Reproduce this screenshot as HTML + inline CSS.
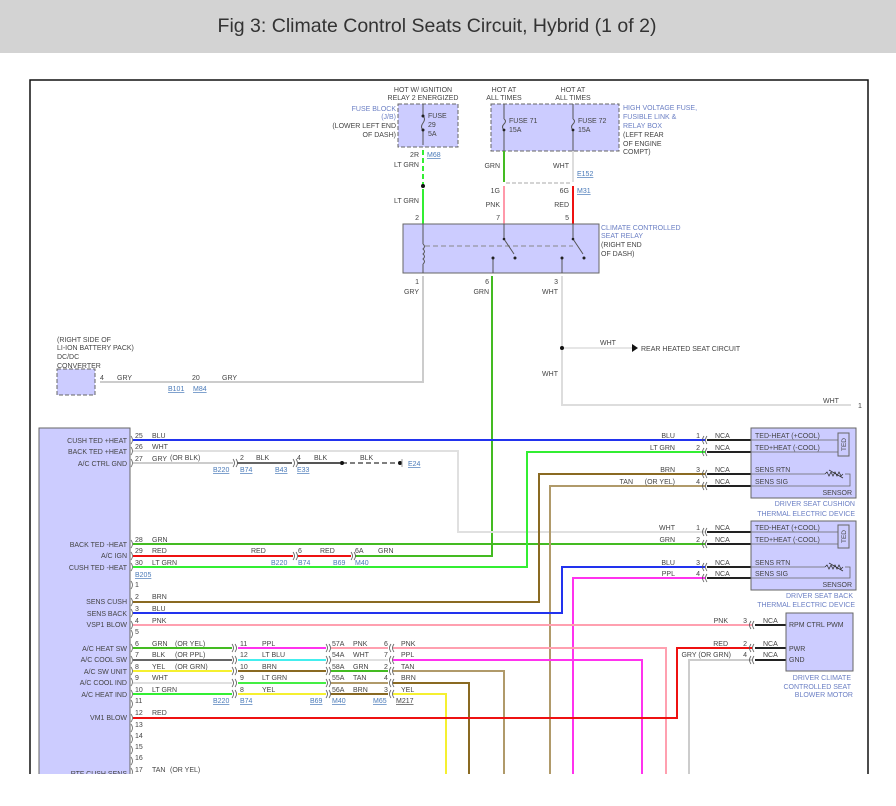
<!DOCTYPE html>
<html><head><meta charset="utf-8"><style>
html,body{margin:0;padding:0;background:#fff;width:896px;height:806px;overflow:hidden}
svg{display:block}
text{font-family:"Liberation Sans",sans-serif;font-size:7px;fill:#444}
.r{text-anchor:end}
.ref{fill:#4a7ab8;text-decoration:underline}
.cap{fill:#6b7fc4}
.w{fill:none;stroke-width:2}
</style></head><body>
<svg width="896" height="806" viewBox="0 0 896 806">
<rect x="0" y="0" width="896" height="53" fill="#d3d3d3"/>
<text x="437" y="32" text-anchor="middle" style="font-size:19.5px;fill:#333;font-family:'Liberation Sans',sans-serif">Fig 3: Climate Control Seats Circuit, Hybrid (1 of 2)</text>
<!-- frame -->
<path d="M30 806 V80 H868 V806" fill="none" stroke="#111" stroke-width="1.5"/>

<!-- top: fuse block -->
<text x="423" y="92" text-anchor="middle">HOT W/ IGNITION</text>
<text x="423" y="100" text-anchor="middle">RELAY 2 ENERGIZED</text>
<text x="396" y="111" class="r cap">FUSE BLOCK</text>
<text x="396" y="119" class="r cap">(J/B)</text>
<text x="396" y="128" class="r">(LOWER LEFT END</text>
<text x="396" y="137" class="r">OF DASH)</text>
<rect x="398" y="104" width="60" height="43" fill="#ccccff" stroke="#666" stroke-dasharray="4,2"/>
<path d="M423 104 V116 M423 130 V145" stroke="#555"/>
<path d="M423 116 q3 3 0 7 q-3 4 0 7" fill="none" stroke="#555"/>
<circle cx="423" cy="116" r="1.5" fill="#222"/><circle cx="423" cy="130" r="1.5" fill="#222"/>
<text x="428" y="118">FUSE</text><text x="428" y="127">29</text><text x="428" y="136">5A</text>
<text x="419" y="157" class="r">2R</text><text x="427" y="157" class="ref">M68</text>
<path d="M423 150 V186" stroke="#33ee33" stroke-width="2" stroke-dasharray="5,3"/>
<circle cx="423" cy="186" r="2" fill="#111"/>
<path d="M423 189 V224" stroke="#33ee33" stroke-width="2"/>
<text x="419" y="167" class="r">LT GRN</text><text x="419" y="203" class="r">LT GRN</text>
<text x="419" y="220" class="r">2</text>

<!-- HV box -->
<text x="504" y="92" text-anchor="middle">HOT AT</text><text x="504" y="100" text-anchor="middle">ALL TIMES</text>
<text x="573" y="92" text-anchor="middle">HOT AT</text><text x="573" y="100" text-anchor="middle">ALL TIMES</text>
<rect x="491" y="104" width="128" height="47" fill="#ccccff" stroke="#666" stroke-dasharray="4,2"/>
<path d="M504 104 V119 M504 130 V151 M573 104 V119 M573 130 V151" stroke="#555"/>
<path d="M504 119 q3 2 0 5 q-3 3 0 6 M573 119 q3 2 0 5 q-3 3 0 6" fill="none" stroke="#555"/>
<circle cx="504" cy="130" r="1.4" fill="#222"/><circle cx="573" cy="130" r="1.4" fill="#222"/>
<text x="509" y="123">FUSE 71</text><text x="509" y="132">15A</text>
<text x="578" y="123">FUSE 72</text><text x="578" y="132">15A</text>
<text x="623" y="110" class="cap">HIGH VOLTAGE FUSE,</text>
<text x="623" y="119" class="cap">FUSIBLE LINK &amp;</text>
<text x="623" y="128" class="cap">RELAY BOX</text>
<text x="623" y="137">(LEFT REAR</text><text x="623" y="146">OF ENGINE</text><text x="623" y="154">COMPT)</text>
<path d="M504 151 V182" stroke="#44bb22" stroke-width="2"/>
<path d="M573 151 V182" stroke="#ddd" stroke-width="2"/>
<text x="500" y="168" class="r">GRN</text><text x="569" y="168" class="r">WHT</text>
<path d="M506 183 H571" stroke="#aaa" stroke-dasharray="4,2"/>
<text x="577" y="176" class="ref">E152</text>
<text x="500" y="193" class="r">1G</text><text x="569" y="193" class="r">6G</text><text x="577" y="193" class="ref">M31</text>
<path d="M504 186 V224" stroke="#ff99aa" stroke-width="2"/>
<path d="M573 186 V224" stroke="#ee1111" stroke-width="2"/>
<text x="500" y="207" class="r">PNK</text><text x="569" y="207" class="r">RED</text>
<text x="500" y="220" class="r">7</text><text x="569" y="220" class="r">5</text>

<!-- relay -->
<rect x="403" y="224" width="196" height="49" fill="#ccccff" stroke="#666"/>
<path d="M423 224 V244 M423 264 V273" stroke="#555"/>
<path d="M423 244 q3 2.5 0 5 q3 2.5 0 5 q3 2.5 0 5 q3 2.5 0 5" fill="none" stroke="#555"/>
<path d="M425 246 H573" stroke="#888" stroke-dasharray="5,3"/>
<path d="M504 224 V239 L514 254 M573 224 V239 L583 254" stroke="#555" fill="none"/>
<circle cx="504" cy="239" r="1.3" fill="#222"/><circle cx="573" cy="239" r="1.3" fill="#222"/>
<circle cx="515" cy="258" r="1.5" fill="#222"/><circle cx="584" cy="258" r="1.5" fill="#222"/>
<path d="M493 258 V273 M562 258 V273" stroke="#555"/>
<circle cx="493" cy="258" r="1.5" fill="#222"/><circle cx="562" cy="258" r="1.5" fill="#222"/>
<text x="601" y="230" class="cap">CLIMATE CONTROLLED</text>
<text x="601" y="238" class="cap">SEAT RELAY</text>
<text x="601" y="247">(RIGHT END</text><text x="601" y="256">OF DASH)</text>
<text x="419" y="284" class="r">1</text><text x="489" y="284" class="r">6</text><text x="558" y="284" class="r">3</text>
<text x="419" y="294" class="r">GRY</text><text x="489" y="294" class="r">GRN</text><text x="558" y="294" class="r">WHT</text>

<path d="M423 276 V382 H100" class="w" stroke="#ccc"/>
<path d="M492 276 V556 H355" class="w" stroke="#44bb22"/>
<path d="M562 276 V405 H851" class="w" stroke="#ddd"/>
<path d="M564 348 H632" stroke="#ddd" stroke-width="1.5"/>
<circle cx="562" cy="348" r="2" fill="#111"/>
<path d="M632 344 L638 348 L632 352 Z" fill="#111"/>
<text x="600" y="345">WHT</text><text x="641" y="351">REAR HEATED SEAT CIRCUIT</text>
<text x="558" y="376" class="r">WHT</text>
<text x="823" y="403">WHT</text><text x="858" y="408">1</text>

<!-- DC/DC -->
<text x="57" y="342">(RIGHT SIDE OF</text><text x="57" y="350">LI-ION BATTERY PACK)</text>
<text x="57" y="359">DC/DC</text><text x="57" y="368">CONVERTER</text>
<rect x="57" y="369" width="38" height="26" fill="#ccccff" stroke="#666" stroke-dasharray="4,2"/>
<text x="100" y="380">4</text><text x="117" y="380">GRY</text>
<text x="192" y="380">20</text><text x="222" y="380">GRY</text>
<text x="168" y="391" class="ref">B101</text><text x="193" y="391" class="ref">M84</text>

<!-- left module -->
<rect x="39" y="428" width="91" height="360" fill="#ccccff" stroke="#666"/>
<text x="127" y="443" class="r">CUSH TED +HEAT</text>
<text x="127" y="454" class="r">BACK TED +HEAT</text>
<text x="127" y="466" class="r">A/C CTRL GND</text>
<text x="127" y="547" class="r">BACK TED -HEAT</text>
<text x="127" y="558" class="r">A/C IGN</text>
<text x="127" y="570" class="r">CUSH TED -HEAT</text>
<text x="127" y="604" class="r">SENS CUSH</text>
<text x="127" y="616" class="r">SENS BACK</text>
<text x="127" y="627" class="r">VSP1 BLOW</text>
<text x="127" y="651" class="r">A/C HEAT SW</text>
<text x="127" y="662" class="r">A/C COOL SW</text>
<text x="127" y="674" class="r">A/C SW UNIT</text>
<text x="127" y="685" class="r">A/C COOL IND</text>
<text x="127" y="697" class="r">A/C HEAT IND</text>
<text x="127" y="720" class="r">VM1 BLOW</text>
<text x="127" y="776" class="r">RTF CUSH SENS</text>
<g fill="none" stroke="#666" stroke-width="0.8">
<path d="M131 436 q3 4 0 8 M131 447 q3 4 0 8 M131 459 q3 4 0 8 M131 540 q3 4 0 8 M131 552 q3 4 0 8 M131 563 q3 4 0 8 M131 581 q3 4 0 8 M131 598 q3 4 0 8 M131 609 q3 4 0 8 M131 621 q3 4 0 8 M131 630 q3 4 0 8 M131 644 q3 4 0 8 M131 656 q3 4 0 8 M131 667 q3 4 0 8 M131 678 q3 4 0 8 M131 690 q3 4 0 8 M131 700 q3 4 0 8 M131 714 q3 4 0 8 M131 724 q3 4 0 8 M131 735 q3 4 0 8 M131 746 q3 4 0 8 M131 757 q3 4 0 8 M131 768 q3 4 0 8"/>
</g>
<g>
<text x="135" y="438">25</text><text x="135" y="449">26</text><text x="135" y="461">27</text>
<text x="135" y="542">28</text><text x="135" y="553">29</text><text x="135" y="565">30</text>
<text x="135" y="587">1</text><text x="135" y="599">2</text><text x="135" y="611">3</text><text x="135" y="623">4</text><text x="135" y="634">5</text>
<text x="135" y="646">6</text><text x="135" y="657">7</text><text x="135" y="669">8</text><text x="135" y="680">9</text><text x="135" y="692">10</text><text x="135" y="703">11</text>
<text x="135" y="715">12</text><text x="135" y="727">13</text><text x="135" y="738">14</text><text x="135" y="749">15</text><text x="135" y="760">16</text><text x="135" y="772">17</text>
</g>
<text x="135" y="577" class="ref">B205</text>
<text x="152" y="438">BLU</text><text x="152" y="449">WHT</text><text x="152" y="461">GRY</text><text x="170" y="460">(OR BLK)</text>
<text x="152" y="542">GRN</text><text x="152" y="553">RED</text><text x="152" y="565">LT GRN</text>
<text x="152" y="599">BRN</text><text x="152" y="611">BLU</text><text x="152" y="623">PNK</text>
<text x="152" y="646">GRN</text><text x="175" y="646">(OR YEL)</text>
<text x="152" y="657">BLK</text><text x="175" y="657">(OR PPL)</text>
<text x="152" y="669">YEL</text><text x="175" y="669">(OR GRN)</text>
<text x="152" y="680">WHT</text><text x="152" y="692">LT GRN</text>
<text x="152" y="715">RED</text><text x="152" y="772">TAN</text><text x="170" y="772">(OR YEL)</text>

<path d="M133 440 H705" class="w" stroke="#2233ee"/>
<path d="M133 451 H458 V532 H705" class="w" stroke="#e0e0e0"/>
<path d="M133 463 H233" class="w" stroke="#ccc"/>
<path d="M237 463 H292" class="w" stroke="#666"/>
<path d="M298 463 H340" class="w" stroke="#555"/>
<path d="M342 463 H398" stroke="#555" stroke-width="1.5" stroke-dasharray="5,3"/>
<circle cx="342" cy="463" r="2" fill="#111"/><circle cx="400" cy="463" r="2" fill="#111"/>
<path d="M402 459 V467" stroke="#999"/>
<text x="240" y="460">2</text><text x="256" y="460">BLK</text><text x="297" y="460">4</text><text x="314" y="460">BLK</text><text x="360" y="460">BLK</text>
<text x="408" y="466" class="ref">E24</text>
<text x="213" y="472" class="ref">B220</text><text x="240" y="472" class="ref">B74</text><text x="275" y="472" class="ref">B43</text><text x="297" y="472" class="ref">E33</text>
<path d="M133 544 H705" class="w" stroke="#44bb22"/>
<path d="M133 556 H293" class="w" stroke="#ee1111"/>
<path d="M298 556 H351" class="w" stroke="#ee1111"/>
<text x="251" y="553">RED</text><text x="298" y="553">6</text><text x="320" y="553">RED</text><text x="355" y="553">6A</text><text x="378" y="553">GRN</text>
<text x="271" y="565" class="ref">B220</text><text x="298" y="565" class="ref">B74</text><text x="333" y="565" class="ref">B69</text><text x="355" y="565" class="ref">M40</text>
<path d="M133 567 H527 V452 H705" class="w" stroke="#33ee33"/>
<path d="M133 602 H539 V474 H705" class="w" stroke="#8a6a22"/>
<path d="M550 806 V486 H705" class="w" stroke="#b09a6a"/>
<path d="M133 613 H562 V567 H705" class="w" stroke="#2233ee"/>
<path d="M573 806 V578 H705" class="w" stroke="#ff33ee"/>
<path d="M133 625 H752" class="w" stroke="#ffa0b0"/>
<path d="M133 648 H232" class="w" stroke="#44bb22"/>
<path d="M133 660 H232" class="w" stroke="#666"/>
<path d="M133 671 H232" class="w" stroke="#f5f030"/>
<path d="M133 683 H232" class="w" stroke="#e0e0e0"/>
<path d="M133 694 H232" class="w" stroke="#33ee33"/>
<path d="M238 648 H326" class="w" stroke="#ff33ee"/>
<path d="M238 660 H326" class="w" stroke="#44eeee"/>
<path d="M238 671 H326" class="w" stroke="#8a6a22"/>
<path d="M238 683 H326" class="w" stroke="#44ee44"/>
<path d="M238 694 H326" class="w" stroke="#f5f030"/>
<path d="M331 648 H388" class="w" stroke="#ffa0b0"/>
<path d="M331 660 H388" class="w" stroke="#e0e0e0"/>
<path d="M331 671 H388" class="w" stroke="#44bb22"/>
<path d="M331 683 H388" class="w" stroke="#b09a6a"/>
<path d="M331 694 H388" class="w" stroke="#8a6a22"/>
<path d="M393 648 H666 V806" class="w" stroke="#ffa0b0"/>
<path d="M393 660 H642 V806" class="w" stroke="#ff33ee"/>
<path d="M393 671 H504 V806" class="w" stroke="#b09a6a"/>
<path d="M393 683 H469 V806" class="w" stroke="#8a6a22"/>
<path d="M393 694 H446 V806" class="w" stroke="#f5f030"/>
<path d="M133 718 H677 V648 H752" class="w" stroke="#ee1111"/>
<path d="M689 806 V660 H752" class="w" stroke="#ccc"/>
<g fill="none" stroke="#555" stroke-width="0.8">
<path d="M232 644 q3 4 0 8 M235 644 q3 4 0 8 M232 656 q3 4 0 8 M235 656 q3 4 0 8 M232 667 q3 4 0 8 M235 667 q3 4 0 8 M232 679 q3 4 0 8 M235 679 q3 4 0 8 M232 690 q3 4 0 8 M235 690 q3 4 0 8"/>
<path d="M326 644 q3 4 0 8 M329 644 q3 4 0 8 M326 656 q3 4 0 8 M329 656 q3 4 0 8 M326 667 q3 4 0 8 M329 667 q3 4 0 8 M326 679 q3 4 0 8 M329 679 q3 4 0 8 M326 690 q3 4 0 8 M329 690 q3 4 0 8"/>
<path d="M391 644 q-3 4 0 8 M394 644 q-3 4 0 8 M391 656 q-3 4 0 8 M394 656 q-3 4 0 8 M391 667 q-3 4 0 8 M394 667 q-3 4 0 8 M391 679 q-3 4 0 8 M394 679 q-3 4 0 8 M391 690 q-3 4 0 8 M394 690 q-3 4 0 8"/>
<path d="M233 459 q3 4 0 8 M236 459 q3 4 0 8 M293 459 q3 4 0 8 M296 459 q3 4 0 8 M293 552 q3 4 0 8 M296 552 q3 4 0 8 M351 552 q3 4 0 8 M354 552 q3 4 0 8"/>
</g>
<text x="240" y="646">11</text><text x="262" y="646">PPL</text><text x="332" y="646">57A</text><text x="353" y="646">PNK</text><text x="384" y="646">6</text><text x="401" y="646">PNK</text>
<text x="240" y="657">12</text><text x="262" y="657">LT BLU</text><text x="332" y="657">54A</text><text x="353" y="657">WHT</text><text x="384" y="657">7</text><text x="401" y="657">PPL</text>
<text x="240" y="669">10</text><text x="262" y="669">BRN</text><text x="332" y="669">58A</text><text x="353" y="669">GRN</text><text x="384" y="669">2</text><text x="401" y="669">TAN</text>
<text x="240" y="680">9</text><text x="262" y="680">LT GRN</text><text x="332" y="680">55A</text><text x="353" y="680">TAN</text><text x="384" y="680">4</text><text x="401" y="680">BRN</text>
<text x="240" y="692">8</text><text x="262" y="692">YEL</text><text x="332" y="692">56A</text><text x="353" y="692">BRN</text><text x="384" y="692">3</text><text x="401" y="692">YEL</text>
<text x="213" y="703" class="ref">B220</text><text x="240" y="703" class="ref">B74</text><text x="310" y="703" class="ref">B69</text><text x="332" y="703" class="ref">M40</text><text x="373" y="703" class="ref">M65</text><text x="396" y="703" class="ref" style="fill:#444">M217</text>

<text x="675" y="438" class="r">BLU</text><text x="675" y="450" class="r">LT GRN</text>
<text x="675" y="472" class="r">BRN</text><text x="675" y="484" class="r">(OR YEL)</text><text x="633" y="484" class="r">TAN</text>
<text x="675" y="530" class="r">WHT</text><text x="675" y="542" class="r">GRN</text>
<text x="675" y="565" class="r">BLU</text><text x="675" y="576" class="r">PPL</text>
<text x="728" y="623" class="r">PNK</text><text x="728" y="646" class="r">RED</text><text x="731" y="657" class="r">GRY (OR GRN)</text>

<g fill="none" stroke="#555" stroke-width="0.8">
<path d="M704 436 q-3 4 0 8 M707 436 q-3 4 0 8 M704 448 q-3 4 0 8 M707 448 q-3 4 0 8 M704 470 q-3 4 0 8 M707 470 q-3 4 0 8 M704 482 q-3 4 0 8 M707 482 q-3 4 0 8"/>
<path d="M704 528 q-3 4 0 8 M707 528 q-3 4 0 8 M704 540 q-3 4 0 8 M707 540 q-3 4 0 8 M704 563 q-3 4 0 8 M707 563 q-3 4 0 8 M704 574 q-3 4 0 8 M707 574 q-3 4 0 8"/>
<path d="M751 621 q-3 4 0 8 M754 621 q-3 4 0 8 M751 644 q-3 4 0 8 M754 644 q-3 4 0 8 M751 656 q-3 4 0 8 M754 656 q-3 4 0 8"/>
</g>
<g stroke="#222" stroke-width="2">
<path d="M707 440 H751 M707 452 H751 M707 474 H751 M707 486 H751"/>
<path d="M707 532 H751 M707 544 H751 M707 567 H751 M707 578 H751"/>
<path d="M755 625 H786 M755 648 H786 M755 660 H786"/>
</g>
<g>
<text x="700" y="438" class="r">1</text><text x="700" y="450" class="r">2</text><text x="700" y="472" class="r">3</text><text x="700" y="484" class="r">4</text>
<text x="715" y="438">NCA</text><text x="715" y="450">NCA</text><text x="715" y="472">NCA</text><text x="715" y="484">NCA</text>
<text x="700" y="530" class="r">1</text><text x="700" y="542" class="r">2</text><text x="700" y="565" class="r">3</text><text x="700" y="576" class="r">4</text>
<text x="715" y="530">NCA</text><text x="715" y="542">NCA</text><text x="715" y="565">NCA</text><text x="715" y="576">NCA</text>
<text x="747" y="623" class="r">3</text><text x="747" y="646" class="r">2</text><text x="747" y="657" class="r">4</text>
<text x="763" y="623">NCA</text><text x="763" y="646">NCA</text><text x="763" y="657">NCA</text>
</g>
<rect x="751" y="428" width="105" height="70" fill="#ccccff" stroke="#666"/>
<rect x="838" y="433" width="11" height="23" fill="#ccccff" stroke="#666"/>
<path d="M751 440 H838 M751 452 H838 M751 474 H825 M845 474 H850 V486 H751" stroke="#666" fill="none" stroke-width="0.8"/>
<path d="M825 474 l2 -2 l2 4 l2 -4 l2 4 l2 -4 l2 4 l2 -4 l2 4 l2 -2 M829 470 l14 8" stroke="#333" fill="none" stroke-width="0.8"/>
<text x="755" y="438">TED-HEAT (+COOL)</text><text x="755" y="450">TED+HEAT (-COOL)</text>
<text x="755" y="472">SENS RTN</text><text x="755" y="484">SENS SIG</text><text x="852" y="495" class="r">SENSOR</text>
<text x="846" y="444.5" transform="rotate(-90 846 444.5)" text-anchor="middle" style="font-size:6.5px">TED</text>
<text x="855" y="506" class="r cap">DRIVER SEAT CUSHION</text><text x="855" y="516" class="r cap">THERMAL ELECTRIC DEVICE</text>

<rect x="751" y="521" width="105" height="69" fill="#ccccff" stroke="#666"/>
<rect x="838" y="525" width="11" height="23" fill="#ccccff" stroke="#666"/>
<path d="M751 532 H838 M751 544 H838 M751 567 H825 M845 567 H850 V578 H751" stroke="#666" fill="none" stroke-width="0.8"/>
<path d="M825 567 l2 -2 l2 4 l2 -4 l2 4 l2 -4 l2 4 l2 -4 l2 4 l2 -2 M829 563 l14 8" stroke="#333" fill="none" stroke-width="0.8"/>
<text x="755" y="530">TED-HEAT (+COOL)</text><text x="755" y="542">TED+HEAT (-COOL)</text>
<text x="755" y="565">SENS RTN</text><text x="755" y="576">SENS SIG</text><text x="852" y="587" class="r">SENSOR</text>
<text x="846" y="536.5" transform="rotate(-90 846 536.5)" text-anchor="middle" style="font-size:6.5px">TED</text>
<text x="853" y="598" class="r cap">DRIVER SEAT BACK</text><text x="855" y="607" class="r cap">THERMAL ELECTRIC DEVICE</text>

<rect x="786" y="613" width="67" height="58" fill="#ccccff" stroke="#666"/>
<text x="789" y="627">RPM CTRL PWM</text><text x="789" y="651">PWR</text><text x="789" y="662">GND</text>
<text x="851" y="680" class="r cap">DRIVER CLIMATE</text><text x="851" y="689" class="r cap">CONTROLLED SEAT</text><text x="853" y="697" class="r cap">BLOWER MOTOR</text>

<rect x="0" y="774" width="896" height="32" fill="#fff"/>
</svg>
</body></html>
